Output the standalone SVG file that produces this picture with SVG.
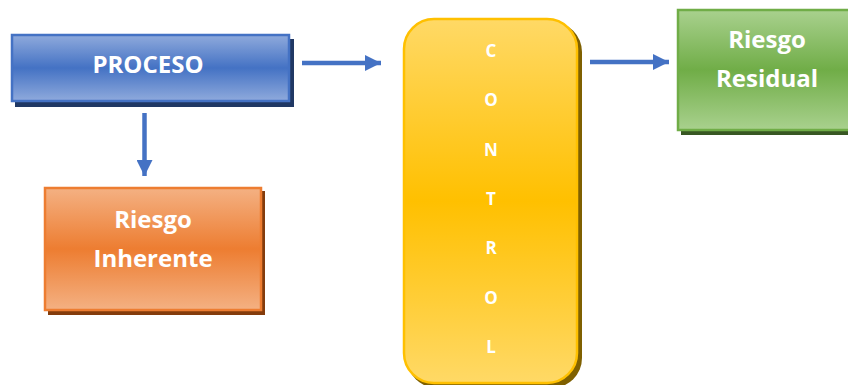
<svg xmlns="http://www.w3.org/2000/svg" width="848" height="385" viewBox="0 0 848 385">
  <defs>
    <linearGradient id="gBlue" x1="0" y1="0" x2="0" y2="1">
      <stop offset="0" stop-color="#8faadc"/>
      <stop offset="0.5" stop-color="#4472c4"/>
      <stop offset="1" stop-color="#8faadc"/>
    </linearGradient>
    <linearGradient id="gOrange" x1="0" y1="0" x2="0" y2="1">
      <stop offset="0" stop-color="#f4b183"/>
      <stop offset="0.5" stop-color="#ed7d31"/>
      <stop offset="1" stop-color="#f4b183"/>
    </linearGradient>
    <linearGradient id="gYellow" x1="0" y1="0" x2="0" y2="1">
      <stop offset="0" stop-color="#ffd966"/>
      <stop offset="0.5" stop-color="#ffc000"/>
      <stop offset="1" stop-color="#ffd966"/>
    </linearGradient>
    <linearGradient id="gGreen" x1="0" y1="0" x2="0" y2="1">
      <stop offset="0" stop-color="#a9d18e"/>
      <stop offset="0.5" stop-color="#70ad47"/>
      <stop offset="1" stop-color="#a9d18e"/>
    </linearGradient>
    <marker id="head" viewBox="0 0 16 16" refX="16" refY="8" markerWidth="16" markerHeight="16" markerUnits="userSpaceOnUse" orient="auto">
      <path d="M0,0 L16,8 L0,16 Z" fill="#4472c4"/>
    </marker>
  </defs>
  <style>
    .lbl { font-family: "Open Sans", "Liberation Sans", sans-serif; font-weight: 700; fill: #ffffff; text-anchor: middle; }
    .big { font-size: 24px; }
    .ltr { font-size: 17px; }
    .conn { stroke: #4472c4; stroke-width: 4.5; fill: none; }
  </style>

  <!-- connectors -->
  <g id="connectors">
    <line class="conn" x1="302" y1="63" x2="381" y2="63" marker-end="url(#head)"/>
    <line class="conn" x1="144.5" y1="113" x2="144.5" y2="176" marker-end="url(#head)"/>
    <line class="conn" x1="590" y1="62" x2="669" y2="62" marker-end="url(#head)"/>
  </g>

  <!-- PROCESO -->
  <g id="proceso">
    <rect x="15" y="39" width="279" height="68" fill="#203864"/>
    <rect x="12" y="35" width="277" height="66" fill="url(#gBlue)" stroke="#4472c4" stroke-width="2.5"/>
    <text class="lbl big" x="148" y="72.5">PROCESO</text>
  </g>

  <!-- Riesgo Inherente -->
  <g id="riesgo-inherente">
    <rect x="48" y="191" width="217" height="124" fill="#843c0c"/>
    <rect x="45" y="188" width="216" height="122" fill="url(#gOrange)" stroke="#ed7d31" stroke-width="2.5"/>
    <text class="lbl big" x="153" y="228">Riesgo</text>
    <text class="lbl big" x="153" y="267">Inherente</text>
  </g>

  <!-- CONTROL -->
  <g id="control">
    <rect x="407" y="22" width="175" height="366" rx="30" ry="30" fill="#7f6000"/>
    <rect x="404" y="19" width="173" height="364" rx="30" ry="30" fill="url(#gYellow)" stroke="#ffc000" stroke-width="2.5"/>
    <text class="lbl ltr" x="491" y="57">C</text>
    <text class="lbl ltr" x="491" y="106">O</text>
    <text class="lbl ltr" x="491" y="156">N</text>
    <text class="lbl ltr" x="491" y="205">T</text>
    <text class="lbl ltr" x="491" y="254">R</text>
    <text class="lbl ltr" x="491" y="304">O</text>
    <text class="lbl ltr" x="491" y="353">L</text>
  </g>

  <!-- Riesgo Residual -->
  <g id="riesgo-residual">
    <rect x="681" y="13" width="180" height="122" fill="#385723"/>
    <rect x="678" y="10" width="180" height="120" fill="url(#gGreen)" stroke="#70ad47" stroke-width="2.5"/>
    <text class="lbl big" x="767" y="48">Riesgo</text>
    <text class="lbl big" x="767" y="87">Residual</text>
  </g>
</svg>
